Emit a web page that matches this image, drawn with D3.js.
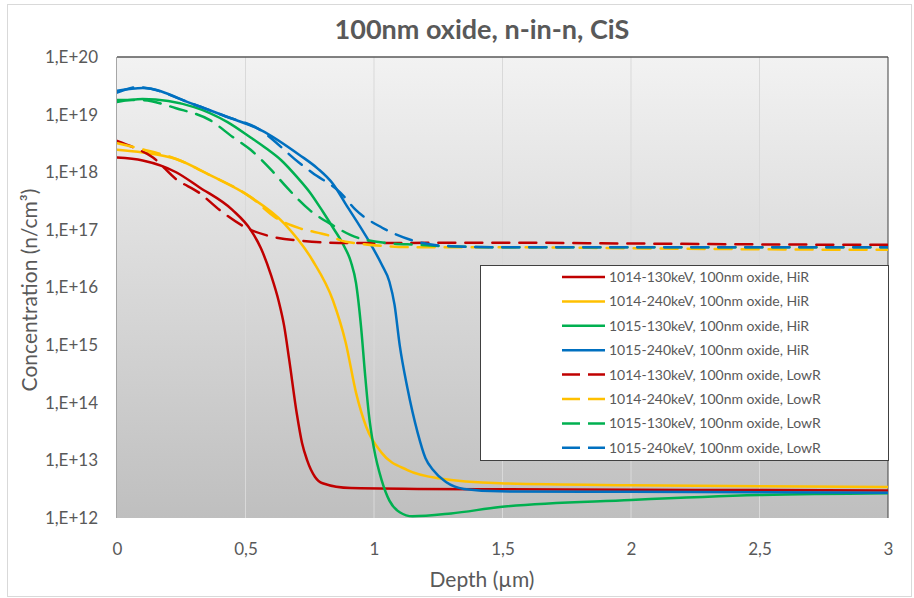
<!DOCTYPE html>
<html>
<head>
<meta charset="utf-8">
<script src="https://cdn.jsdelivr.net/npm/d3@7"></script>
<style>
  body { margin: 0; background: #fff; }
  text { font-family: Lato, "Open Sans", sans-serif; fill: #595959; }
</style>
</head>
<body>
<div id="chart"></div>
<script>
// depth (um) / concentration (n/cm3)
let red130HiR = [[0,1.8e18],[0.1,1.6e18],[0.23,1.0e18],[0.32,5.5e17],[0.45,2.2e17],[0.52,1.0e17],[0.56,4.8e16],[0.6,1.6e16],[0.63,5.6e15],[0.65,2.2e15],[0.67,5.6e14],[0.7,6.3e13],[0.72,2.0e13],[0.74,1.0e13],[0.77,5.2e12],[0.8,4.0e12],[0.91,3.3e12],[1.17,3.2e12],[1.5,3.15e12],[2,3.1e12],[2.5,3.05e12],[3,3.0e12]];
let yel240HiR = [[0,2.45e18],[0.1,2.2e18],[0.23,1.7e18],[0.36,9e17],[0.52,3.7e17],[0.65,1.3e17],[0.76,3.0e16],[0.84,6e15],[0.89,1.1e15],[0.93,1.5e14],[0.97,3.8e13],[1.03,1.35e13],[1.13,6.8e12],[1.25,4.9e12],[1.49,4.0e12],[2,3.7e12],[2.5,3.55e12],[3,3.45e12]];
let grn130HiR = [[0,1.66e19],[0.1,1.86e19],[0.3,1.35e19],[0.43,7.4e18],[0.52,4.0e18],[0.58,2.6e18],[0.64,1.6e18],[0.7,8.3e17],[0.75,4.5e17],[0.8,2.1e17],[0.84,1.1e17],[0.88,5.6e16],[0.91,2.8e16],[0.93,1.2e16],[0.95,2.0e15],[0.965,3.2e14],[0.98,6.3e13],[1.0,1.6e13],[1.03,4.5e12],[1.06,2.0e12],[1.1,1.26e12],[1.15,1.07e12],[1.3,1.2e12],[1.49,1.55e12],[2,2.05e12],[2.5,2.5e12],[3,2.7e12]];
let blu240HiR = [[0,2.6e19],[0.1,2.9e19],[0.3,1.5e19],[0.43,9.1e18],[0.56,5.4e18],[0.71,2.0e18],[0.78,1.17e18],[0.84,6.3e17],[0.89,2.8e17],[0.97,7.6e16],[1.03,2.5e16],[1.06,1.26e16],[1.08,5.0e15],[1.1,1.0e15],[1.13,1.8e14],[1.17,3.0e13],[1.2,1.1e13],[1.23,6.8e12],[1.28,4.2e12],[1.35,3.2e12],[1.49,2.9e12],[2,2.85e12],[2.5,2.8e12],[3,2.75e12]];
let red130LowR = [[0,3.5e18],[0.06,2.75e18],[0.14,1.8e18],[0.23,7.6e17],[0.32,4.4e17],[0.4,2.2e17],[0.52,1.0e17],[0.58,8.1e16],[0.71,6.5e16],[0.91,5.9e16],[1.5,6.0e16],[2,5.8e16],[2.5,5.6e16],[3,5.5e16]];
let yel240LowR = [[0,3.2e18],[0.1,2.5e18],[0.23,1.7e18],[0.36,9e17],[0.52,3.7e17],[0.62,1.6e17],[0.71,1.07e17],[0.82,8.1e16],[0.89,6.2e16],[1.17,5.0e16],[1.5,5.0e16],[2,4.8e16],[2.5,4.6e16],[3,4.5e16]];
let grn130LowR = [[0,1.8e19],[0.1,1.78e19],[0.23,1.29e19],[0.36,8.1e18],[0.45,4.1e18],[0.52,2.45e18],[0.6,1.1e18],[0.66,5.5e17],[0.75,2.2e17],[0.84,1.2e17],[0.91,8.1e16],[1.01,6.2e16],[1.17,5.5e16],[1.49,5.0e16],[2,5.0e16],[2.5,5.0e16],[3,5.0e16]];
let blu240LowR = [[0,2.4e19],[0.08,3.0e19],[0.3,1.5e19],[0.43,9.1e18],[0.54,6.0e18],[0.71,1.45e18],[0.76,9.8e17],[0.87,4.4e17],[0.93,2.2e17],[1.03,1.1e17],[1.17,6.2e16],[1.3,5.2e16],[1.49,5.0e16],[2,5.0e16],[2.5,5.0e16],[3,5.0e16]];

let names = ['1014-130keV, 100nm oxide, HiR','1014-240keV, 100nm oxide, HiR','1015-130keV, 100nm oxide, HiR','1015-240keV, 100nm oxide, HiR',
             '1014-130keV, 100nm oxide, LowR','1014-240keV, 100nm oxide, LowR','1015-130keV, 100nm oxide, LowR','1015-240keV, 100nm oxide, LowR'];
let colors = ['#c00000','#ffc000','#00b050','#0070c0','#c00000','#ffc000','#00b050','#0070c0'];
let dashed = [false,false,false,false,true,true,true,true];
let allSeries = [red130HiR, yel240HiR, grn130HiR, blu240HiR, red130LowR, yel240LowR, grn130LowR, blu240LowR];

let xTicks = [0, 0.5, 1, 1.5, 2, 2.5, 3];
let yTicks = [1e12, 1e13, 1e14, 1e15, 1e16, 1e17, 1e18, 1e19, 1e20];

let width = 914, height = 598;
let m = {left: 117, right: 26, top: 57, bottom: 80};

let svg = d3.select('#chart').append('svg')
	.attr('width', width)
	.attr('height', height);

// outer frame
svg.append('rect')
	.attr('x', 7.5).attr('y', 4.5)
	.attr('width', 904).attr('height', 592)
	.attr('fill', '#fff').attr('stroke', '#d9d9d9');

let x = d3.scaleLinear().domain([0, 3]).range([m.left, width - m.right]);
let y = d3.scaleLog().domain([1e12, 1e20]).range([height - m.bottom, m.top]);

let grad = svg.append('defs').append('linearGradient')
	.attr('id', 'bg').attr('x1', 0).attr('y1', 0).attr('x2', 0).attr('y2', 1);
grad.append('stop').attr('offset', '0%').attr('stop-color', '#f2f2f2');
grad.append('stop').attr('offset', '100%').attr('stop-color', '#bfbfbf');

svg.select('defs').append('clipPath').attr('id', 'clip')
	.append('rect')
	.attr('x', x(0)).attr('y', y(1e20))
	.attr('width', x(3) - x(0)).attr('height', y(1e12) - y(1e20));

svg.append('rect')
	.attr('x', x(0)).attr('y', y(1e20))
	.attr('width', x(3) - x(0)).attr('height', y(1e12) - y(1e20))
	.attr('fill', 'url(#bg)');

// vertical grid
svg.append('g')
	.selectAll('line')
	.data(xTicks.slice(1, -1))
	.join('line')
	.attr('x1', d => x(d)).attr('x2', d => x(d))
	.attr('y1', y(1e20)).attr('y2', y(1e12))
	.attr('stroke', '#d9d9d9').attr('stroke-width', 1);

// plot frame edges
svg.append('line')
	.attr('x1', x(0)).attr('x2', x(3)).attr('y1', y(1e20)).attr('y2', y(1e20))
	.attr('stroke', '#595959').attr('stroke-width', 1.5);
svg.append('line')
	.attr('x1', x(3)).attr('x2', x(3)).attr('y1', y(1e20)).attr('y2', y(1e12))
	.attr('stroke', '#404040').attr('stroke-width', 1);
svg.append('line')
	.attr('x1', x(0) - 0.5).attr('x2', x(0) - 0.5).attr('y1', y(1e20)).attr('y2', y(1e12))
	.attr('stroke', '#a6a6a6').attr('stroke-width', 1);

// axes
let xAxis = svg.append('g')
	.attr('transform', `translate(0,${y(1e12) + 22})`)
	.call(d3.axisBottom(x).tickValues(xTicks).tickSize(0)
		.tickFormat(d => String(d).replace('.', ',')));
xAxis.select('.domain').remove();
xAxis.selectAll('text').attr('font-size', 17).attr('dy', '0.71em');

let yAxis = svg.append('g')
	.attr('transform', `translate(${x(0) - 19},0)`)
	.call(d3.axisLeft(y).tickValues(yTicks).tickSize(0)
		.tickFormat(d => '1,E+' + Math.round(Math.log10(d))));
yAxis.select('.domain').remove();
yAxis.selectAll('text').attr('font-size', 17).attr('x', 0);

// curves
let line = d3.line()
	.x(d => x(d[0]))
	.y(d => y(d[1]))
	.curve(d3.curveMonotoneX);

let curves = svg.append('g').attr('clip-path', 'url(#clip)');
allSeries.forEach((s, i) => {
	curves.append('path')
		.attr('d', line(s))
		.attr('fill', 'none')
		.attr('stroke', colors[i])
		.attr('stroke-width', 2.5)
		.attr('stroke-linecap', 'round')
		.attr('stroke-dasharray', dashed[i] ? '17,10' : null);
});

// legend
let lg = svg.append('g');
lg.append('rect')
	.attr('x', 480.5).attr('y', 265.5)
	.attr('width', 408).attr('height', 195)
	.attr('fill', '#fff').attr('stroke', '#404040');

let rows = lg.selectAll('g.row')
	.data(names)
	.join('g')
	.attr('class', 'row')
	.attr('transform', (d, i) => `translate(0,${277 + i * 24.4})`);
rows.append('line')
	.attr('x1', 562).attr('x2', 605)
	.attr('stroke', (d, i) => colors[i])
	.attr('stroke-width', 2.5)
	.attr('stroke-dasharray', (d, i) => dashed[i] ? '18,8' : null);
rows.append('text')
	.attr('x', 609).attr('dy', '0.35em')
	.attr('font-size', 14)
	.text(d => d);

// titles
svg.append('text')
	.attr('x', 482).attr('y', 39)
	.attr('text-anchor', 'middle')
	.attr('font-size', 27).attr('font-weight', 'bold')
	.text('100nm oxide, n-in-n, CiS');

svg.append('text')
	.attr('x', 482).attr('y', 587)
	.attr('text-anchor', 'middle')
	.attr('font-size', 21)
	.text('Depth (µm)');

svg.append('text')
	.attr('transform', 'translate(37,290) rotate(-90)')
	.attr('text-anchor', 'middle')
	.attr('font-size', 21)
	.text('Concentration (n/cm³)');
</script>
</body>
</html>
